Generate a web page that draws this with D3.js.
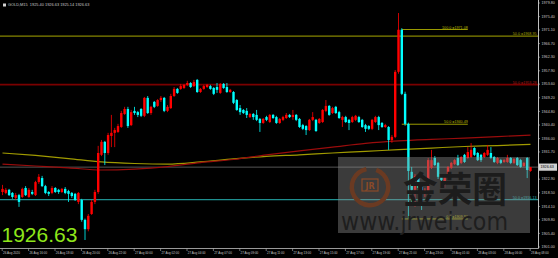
<!DOCTYPE html>
<html>
<head>
<meta charset="utf-8">
<script src="https://cdn.jsdelivr.net/npm/d3@7"></script>
<style>
  html, body { margin: 0; padding: 0; background: #000; }
  svg { display: block; }
</style>
</head>
<body>
<svg id="chart"></svg>
<script>
// GOLD M15 candles, bar 0 = 26 Aug 2020 14:00 ... bar 160 = 28 Aug 08:00
const opens = [
  1918.6, 1918.3, 1919.3, 1918.3, 1916.7, 1917.6, 1917.0, 1919.9, 1917.0, 1918.6,
  1917.6, 1921.8, 1923.1, 1920.5, 1918.6, 1918.3, 1919.9, 1919.3, 1918.6, 1919.6,
  1918.9, 1918.3, 1918.0, 1915.4, 1916.0, 1909.6, 1906.6, 1911.5, 1915.4, 1918.6,
  1930.6, 1934.8, 1931.2, 1936.7, 1937.7, 1938.0, 1939.6, 1943.8, 1945.4, 1940.2,
  1944.8, 1944.4, 1945.4, 1943.2, 1949.0, 1944.1, 1947.7, 1946.4, 1948.3, 1949.0,
  1944.8, 1945.7, 1949.6, 1951.9, 1951.9, 1952.2, 1953.2, 1953.8, 1952.8, 1954.8,
  1950.9, 1951.9, 1952.5, 1952.8, 1952.2, 1952.5, 1950.6, 1953.5, 1952.5, 1950.9,
  1950.9, 1948.3, 1945.7, 1945.1, 1944.8, 1942.8, 1943.8, 1943.5, 1942.2, 1940.9,
  1942.8, 1941.2, 1943.5, 1942.8, 1940.9, 1941.9, 1942.5, 1943.5, 1942.8, 1943.5,
  1942.2, 1940.2, 1939.9, 1938.6, 1941.9, 1941.9, 1940.9, 1941.2, 1944.8, 1946.4,
  1944.1, 1946.1, 1944.4, 1941.9, 1942.8, 1941.9, 1941.2, 1941.9, 1942.8, 1941.9,
  1940.2, 1939.9, 1939.0, 1941.2, 1942.8, 1940.9, 1939.6, 1939.6, 1935.4, 1936.4,
  1957.4, 1971.0, 1950.3, 1940.6, 1925.1, 1919.3, 1923.8, 1920.2, 1918.0, 1918.3,
  1926.4, 1929.6, 1928.0, 1924.1, 1920.9, 1923.5, 1926.4, 1927.6, 1929.6, 1928.0,
  1930.6, 1929.6, 1929.9, 1932.8, 1931.2, 1930.6, 1929.9, 1930.6, 1931.2, 1929.9,
  1928.0, 1928.9, 1928.3, 1928.3, 1929.6, 1928.0, 1929.6, 1928.9, 1927.0, 1929.6,
  1925.40
];
const highs = [
  1920.9, 1919.9, 1919.6, 1918.6, 1918.3, 1918.0, 1920.0, 1920.5, 1919.9, 1919.3,
  1922.2, 1924.4, 1923.8, 1920.9, 1918.9, 1920.5, 1920.2, 1919.6, 1919.9, 1920.2,
  1919.3, 1918.6, 1918.3, 1918.6, 1916.4, 1910.0, 1911.5, 1916.0, 1919.3, 1933.5,
  1935.4, 1935.1, 1937.7, 1943.5, 1939.3, 1940.6, 1944.8, 1946.1, 1946.1, 1945.1,
  1946.1, 1944.8, 1945.7, 1949.3, 1949.6, 1946.4, 1948.0, 1948.6, 1949.6, 1949.3,
  1946.7, 1950.3, 1952.5, 1952.2, 1953.5, 1953.5, 1954.5, 1954.1, 1954.8, 1955.1,
  1952.2, 1953.2, 1953.5, 1953.2, 1952.5, 1953.8, 1953.8, 1953.8, 1953.8, 1951.9,
  1951.2, 1948.6, 1946.7, 1945.4, 1945.7, 1944.1, 1944.1, 1945.1, 1942.5, 1942.5,
  1943.2, 1943.8, 1943.8, 1943.2, 1942.5, 1943.2, 1944.1, 1943.8, 1945.1, 1943.8,
  1942.5, 1940.6, 1940.2, 1942.2, 1944.4, 1942.2, 1942.5, 1945.4, 1948.3, 1946.7,
  1946.1, 1946.4, 1944.8, 1943.2, 1943.2, 1942.2, 1943.2, 1943.5, 1943.2, 1942.2,
  1940.6, 1940.2, 1942.2, 1943.2, 1943.2, 1941.2, 1940.6, 1939.9, 1937.0, 1958.0,
  1976.4, 1971.5, 1951.0, 1941.0, 1926.7, 1924.4, 1924.1, 1920.9, 1919.9, 1929.6,
  1932.2, 1930.2, 1928.3, 1924.4, 1924.4, 1927.0, 1928.3, 1929.3, 1930.6, 1930.2,
  1930.9, 1933.1, 1934.4, 1933.1, 1931.5, 1930.9, 1931.5, 1933.8, 1933.1, 1930.2,
  1929.9, 1929.3, 1929.3, 1930.6, 1929.9, 1929.6, 1929.9, 1929.3, 1928.3, 1929.9,
  1926.63
];
const lows = [
  1917.6, 1917.9, 1917.3, 1916.4, 1916.0, 1913.8, 1916.7, 1917.3, 1916.7, 1917.6,
  1917.3, 1921.2, 1920.2, 1917.9, 1917.3, 1917.9, 1918.3, 1918.0, 1918.3, 1917.9,
  1915.4, 1916.7, 1915.7, 1914.7, 1909.0, 1903.1, 1905.9, 1911.2, 1914.7, 1918.0,
  1930.2, 1927.3, 1930.6, 1933.1, 1933.1, 1937.7, 1939.3, 1943.5, 1939.3, 1939.9,
  1943.5, 1942.8, 1942.8, 1942.8, 1943.8, 1943.5, 1945.7, 1946.1, 1947.7, 1944.4,
  1944.4, 1945.4, 1949.3, 1950.3, 1951.6, 1951.9, 1952.8, 1952.2, 1952.5, 1950.6,
  1950.6, 1951.6, 1952.2, 1951.6, 1949.9, 1950.6, 1950.3, 1951.9, 1950.6, 1950.6,
  1947.0, 1944.8, 1943.5, 1943.8, 1942.5, 1942.5, 1941.9, 1941.5, 1938.0, 1940.6,
  1941.5, 1940.9, 1942.2, 1940.6, 1940.6, 1941.5, 1942.2, 1942.5, 1941.9, 1941.5,
  1939.3, 1938.6, 1937.0, 1938.3, 1941.5, 1938.0, 1940.6, 1940.9, 1944.4, 1943.2,
  1943.8, 1943.8, 1942.2, 1939.6, 1940.9, 1938.6, 1940.9, 1941.5, 1940.9, 1939.3,
  1938.0, 1938.6, 1938.6, 1940.9, 1938.6, 1939.3, 1939.3, 1932.2, 1934.5, 1936.0,
  1956.8, 1949.9, 1940.0, 1909.9, 1915.0, 1913.8, 1918.6, 1912.8, 1917.0, 1917.6,
  1926.0, 1927.0, 1922.8, 1921.8, 1919.9, 1923.1, 1926.0, 1927.3, 1927.0, 1927.6,
  1928.0, 1929.3, 1929.6, 1930.2, 1928.6, 1928.3, 1929.6, 1930.2, 1929.3, 1928.0,
  1927.6, 1927.6, 1928.0, 1928.0, 1927.6, 1927.6, 1927.0, 1926.4, 1926.7, 1923.1,
  1925.14
];
const closes = [
  1919.6, 1919.3, 1917.6, 1917.0, 1917.6, 1915.4, 1919.6, 1917.6, 1919.3, 1918.0,
  1921.8, 1923.5, 1920.5, 1918.3, 1918.0, 1919.9, 1918.6, 1918.6, 1919.6, 1918.3,
  1918.0, 1917.3, 1916.0, 1918.3, 1909.6, 1906.6, 1910.9, 1915.4, 1918.6, 1931.2,
  1934.8, 1931.2, 1937.0, 1937.7, 1938.6, 1939.9, 1944.1, 1945.4, 1939.9, 1944.4,
  1944.1, 1943.5, 1943.2, 1949.0, 1944.1, 1946.1, 1946.1, 1948.3, 1949.0, 1944.8,
  1946.1, 1949.6, 1951.9, 1950.6, 1952.8, 1953.2, 1953.8, 1952.5, 1954.1, 1950.9,
  1951.9, 1952.8, 1953.2, 1951.9, 1950.3, 1951.6, 1953.5, 1952.2, 1950.9, 1951.6,
  1947.4, 1945.1, 1944.4, 1944.1, 1943.5, 1943.8, 1942.8, 1941.9, 1940.9, 1942.2,
  1941.9, 1943.5, 1942.5, 1940.9, 1942.2, 1942.8, 1943.5, 1942.8, 1943.5, 1941.9,
  1939.6, 1939.0, 1938.6, 1941.9, 1942.8, 1938.3, 1942.2, 1945.1, 1946.4, 1943.5,
  1945.7, 1944.1, 1942.5, 1942.8, 1941.2, 1940.9, 1942.8, 1943.2, 1941.2, 1939.6,
  1939.0, 1939.0, 1941.9, 1942.8, 1940.2, 1939.6, 1940.2, 1935.4, 1936.4, 1957.4,
  1971.0, 1950.3, 1940.6, 1925.4, 1919.3, 1923.8, 1919.9, 1918.3, 1919.3, 1928.9,
  1928.9, 1927.3, 1923.5, 1922.5, 1924.1, 1926.7, 1928.0, 1928.9, 1927.3, 1929.9,
  1928.3, 1931.5, 1932.2, 1930.6, 1928.9, 1928.9, 1931.2, 1932.2, 1929.6, 1928.3,
  1929.6, 1928.0, 1928.9, 1929.6, 1928.0, 1929.3, 1927.3, 1926.7, 1928.0, 1925.7,
  1926.63
];

// moving averages, read every 10 bars
const maBars = [0, 10, 20, 30, 40, 50, 60, 70, 80, 90, 100, 110, 120, 130, 140, 150, 160];
const maYellow = [1931.2, 1930.4, 1929.4, 1928.3, 1927.8, 1927.6, 1928.3, 1929.3, 1930.1,
  1930.6, 1931.2, 1931.7, 1932.3, 1932.8, 1933.3, 1933.6, 1934.0];
const maRed = [1927.6, 1927.0, 1926.4, 1925.7, 1926.0, 1926.8, 1928.1, 1929.1, 1930.6,
  1931.9, 1933.1, 1934.3, 1935.1, 1935.6, 1936.0, 1936.5, 1937.0];

// horizontal levels across the chart
const levelValues = [1968.95, 1953.28, 1916.13];
const levelLabels = ['50.0 =1968.95', '50.0 =1953.28', '50.0 =1916.13'];
const levelColors = ['#858500', '#7a0000', '#1f8f8f'];

// fibonacci retracement on the spike
const fibValues = [1971.08, 1940.49, 1909.90];
const fibLabels = ['100.0 =1971.08', '50.0 =1940.49', '0.0 =1909.90'];
const fibFrom = 121;
const fibTo = 141;

const yTicks = [1979.80, 1975.40, 1971.10, 1966.70, 1962.30, 1957.90, 1953.60, 1949.20,
  1944.80, 1940.40, 1936.00, 1931.70, 1927.30, 1922.90, 1918.50, 1914.10, 1909.80,
  1905.40, 1901.00];
const xTickBars = [0, 8, 16, 24, 32, 40, 48, 56, 64, 72, 80, 88, 96, 104, 112, 120, 128,
  136, 144, 152, 160];
const xLabels = ['26 Aug 2020', '26 Aug 16:00', '26 Aug 18:00', '26 Aug 20:00',
  '26 Aug 22:00', '27 Aug 00:00', '27 Aug 02:00', '27 Aug 04:00', '27 Aug 07:00',
  '27 Aug 09:00', '27 Aug 11:00', '27 Aug 13:00', '27 Aug 15:00', '27 Aug 17:00',
  '27 Aug 19:00', '27 Aug 21:00', '27 Aug 23:00', '28 Aug 01:00', '28 Aug 03:00',
  '28 Aug 06:00', '28 Aug 08:00'];

const lastPrice = 1926.63;
const header = 'GOLD,M15  1925.40 1926.63 1925.14 1926.63';

const width = 558;
const height = 258;
const plotRight = 538;
const plotBottom = 248.5;
const smallFont = '"Liberation Sans", Arial, sans-serif';

const bars = opens.map((o, i) => ({ i, o, h: highs[i], l: lows[i], c: closes[i] }));

const svg = d3.select('#chart').attr('width', width).attr('height', height);

svg.append('rect').attr('width', width).attr('height', height).attr('fill', '#000');

const xScale = d3.scaleLinear().domain([0, 160]).range([2.5, 530.5]);
const yScale = d3.scaleLinear().domain([1901, 1979.8]).range([246.5, 2.5]);

const plot = svg.append('g');

// full width levels
levelValues.forEach((v, k) => {
  plot.append('line')
    .attr('x1', 0).attr('x2', plotRight)
    .attr('y1', yScale(v)).attr('y2', yScale(v))
    .attr('stroke', levelColors[k])
    .attr('stroke-width', k === 1 ? 1.8 : 1.4);
  plot.append('text')
    .attr('x', plotRight - 1.5)
    .attr('y', yScale(v) - 1)
    .attr('text-anchor', 'end')
    .attr('font-family', smallFont)
    .attr('font-size', 3.7)
    .attr('fill', k === 1 ? '#b01818' : k === 0 ? '#a5a500' : '#2fb5b5')
    .text(levelLabels[k]);
});

// bid line
plot.append('line')
  .attr('x1', 0).attr('x2', plotRight)
  .attr('y1', yScale(lastPrice)).attr('y2', yScale(lastPrice))
  .attr('stroke', '#555')
  .attr('stroke-width', 1);

// fib levels
fibValues.forEach((v, k) => {
  plot.append('line')
    .attr('x1', xScale(fibFrom)).attr('x2', xScale(fibTo))
    .attr('y1', yScale(v)).attr('y2', yScale(v))
    .attr('stroke', '#9a9a00')
    .attr('stroke-width', 1);
  plot.append('text')
    .attr('x', xScale(fibTo))
    .attr('y', yScale(v) - 1)
    .attr('text-anchor', 'end')
    .attr('font-family', smallFont)
    .attr('font-size', 3.7)
    .attr('fill', '#b8b800')
    .text(fibLabels[k]);
});

// moving averages
const maLine = d3.line()
  .x((d) => xScale(d[0]))
  .y((d) => yScale(d[1]))
  .curve(d3.curveMonotoneX);

plot.append('path')
  .datum(maBars.map((b, k) => [b, maYellow[k]]))
  .attr('d', maLine)
  .attr('fill', 'none')
  .attr('stroke', '#a09a00')
  .attr('stroke-width', 1.2);

plot.append('path')
  .datum(maBars.map((b, k) => [b, maRed[k]]))
  .attr('d', maLine)
  .attr('fill', 'none')
  .attr('stroke', '#9a0c0c')
  .attr('stroke-width', 1.2);

// candles
const candleColor = (d) => (d.c >= d.o ? '#ff0000' : '#00ffff');
const candles = plot.selectAll('g.candle')
  .data(bars)
  .enter()
  .append('g')
  .attr('class', 'candle');

candles.append('line')
  .attr('x1', (d) => xScale(d.i)).attr('x2', (d) => xScale(d.i))
  .attr('y1', (d) => yScale(d.h)).attr('y2', (d) => yScale(d.l))
  .attr('stroke', candleColor)
  .attr('stroke-width', 0.8);

candles.append('rect')
  .attr('x', (d) => xScale(d.i) - 1.2)
  .attr('width', 2.4)
  .attr('y', (d) => yScale(Math.max(d.o, d.c)))
  .attr('height', (d) => Math.max(0.8, Math.abs(yScale(d.o) - yScale(d.c))))
  .attr('fill', candleColor);

// watermark
const wm = svg.append('g');
wm.append('rect')
  .attr('x', 338).attr('y', 157)
  .attr('width', 192).attr('height', 76)
  .attr('fill', '#8c8c8c')
  .attr('opacity', 0.42);
wm.append('path')
  .attr('d', d3.arc()({ innerRadius: 16, outerRadius: 20.5, startAngle: 0.35, endAngle: 2 * Math.PI - 0.2 }))
  .attr('transform', 'translate(370,187)')
  .attr('fill', '#6a3a22');
wm.append('rect')
  .attr('x', 362).attr('y', 179)
  .attr('width', 16).attr('height', 12)
  .attr('fill', 'none')
  .attr('stroke', '#8a4a28')
  .attr('stroke-width', 1.2);
wm.append('text')
  .attr('x', 370).attr('y', 189)
  .attr('text-anchor', 'middle')
  .attr('font-family', 'DejaVu Sans, sans-serif')
  .attr('font-weight', 'bold')
  .attr('font-size', 8)
  .attr('fill', '#8a4a28')
  .text('JR');
wm.append('text')
  .attr('x', 403).attr('y', 203)
  .attr('font-family', '"Noto Sans CJK SC", sans-serif')
  .attr('font-weight', 'bold')
  .attr('font-size', 36)
  .attr('textLength', 104)
  .attr('lengthAdjust', 'spacingAndGlyphs')
  .attr('fill', '#1c1c1c')
  .text('金荣圈');
wm.append('text')
  .attr('x', 341).attr('y', 230)
  .attr('font-family', '"DejaVu Sans", sans-serif')
  .attr('font-size', 25)
  .attr('textLength', 167)
  .attr('lengthAdjust', 'spacingAndGlyphs')
  .attr('fill', '#1e1e1e')
  .text('www.jrwei.com');

// price axis
const yAxis = d3.axisRight(yScale)
  .tickValues(yTicks)
  .tickFormat(d3.format('.2f'))
  .tickSize(2)
  .tickPadding(1.5);

const yAxisG = svg.append('g')
  .attr('transform', 'translate(' + plotRight + ',0)')
  .call(yAxis);
yAxisG.select('.domain').remove();
yAxisG.selectAll('line').attr('stroke', '#bbb').attr('stroke-width', 0.6);
yAxisG.selectAll('text')
  .attr('fill', '#c8c8c8')
  .attr('font-family', smallFont)
  .attr('font-size', 3.7);

// time axis
const xAxis = d3.axisBottom(xScale)
  .tickValues(xTickBars)
  .tickFormat((d, i) => xLabels[i])
  .tickSize(2.5)
  .tickPadding(1);

const xAxisG = svg.append('g')
  .attr('transform', 'translate(-0.8,' + plotBottom + ')')
  .call(xAxis);
xAxisG.select('.domain').remove();
xAxisG.selectAll('line').attr('stroke', '#bbb').attr('stroke-width', 0.6);
xAxisG.selectAll('text')
  .attr('text-anchor', 'start')
  .attr('x', 0.8)
  .attr('fill', '#c8c8c8')
  .attr('font-family', smallFont)
  .attr('font-size', 3);

// frame
svg.append('line')
  .attr('x1', plotRight + 0.5).attr('x2', plotRight + 0.5)
  .attr('y1', 0).attr('y2', plotBottom)
  .attr('stroke', '#c0c0c0').attr('stroke-width', 1);
svg.append('line')
  .attr('x1', 0).attr('x2', plotRight + 0.5)
  .attr('y1', plotBottom).attr('y2', plotBottom)
  .attr('stroke', '#c0c0c0').attr('stroke-width', 0.8);

// last price tag
svg.append('rect')
  .attr('x', plotRight + 1).attr('y', yScale(lastPrice) - 3.6)
  .attr('width', 18).attr('height', 7.2)
  .attr('fill', '#d0d0d0');
svg.append('text')
  .attr('x', plotRight + 2.5).attr('y', yScale(lastPrice) + 1.3)
  .attr('font-family', smallFont)
  .attr('font-size', 3.7)
  .attr('fill', '#000')
  .text(d3.format('.2f')(lastPrice));

// header
svg.append('rect')
  .attr('x', 3).attr('y', 3.5).attr('width', 3).attr('height', 3)
  .attr('fill', '#d0d0d0');
svg.append('text')
  .attr('x', 8).attr('y', 6.4)
  .attr('font-family', smallFont)
  .attr('font-size', 3.9)
  .attr('fill', '#c8c8c8')
  .attr('xml:space', 'preserve')
  .text(header);

// big price
svg.append('text')
  .attr('x', 1.5).attr('y', 242)
  .attr('font-family', smallFont)
  .attr('font-size', 21)
  .attr('fill', '#8ee61a')
  .text(d3.format('.2f')(lastPrice));
</script>
</body>
</html>
